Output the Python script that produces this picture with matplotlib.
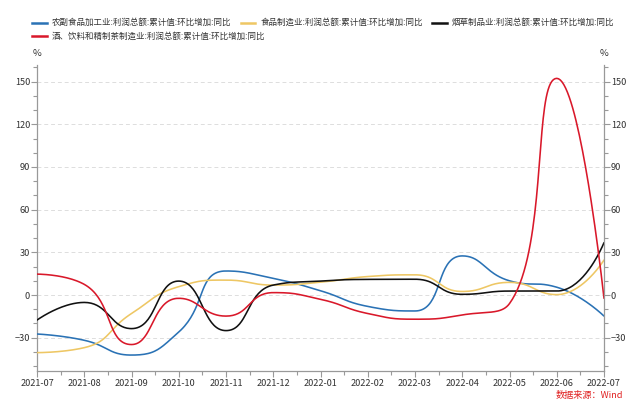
import numpy as np
import matplotlib
matplotlib.use("Agg")
import matplotlib.pyplot as plt
from matplotlib.lines import Line2D
from matplotlib.ticker import MultipleLocator, FixedLocator

plt.rcParams['font.family'] = ['Noto Sans CJK SC', 'DejaVu Sans']

months = ["2021-07", "2021-08", "2021-09", "2021-10", "2021-11", "2021-12",
          "2022-01", "2022-02", "2022-03", "2022-04", "2022-05", "2022-06", "2022-07"]

names = ["农副食品加工业:利润总额:累计值:环比增加:同比",
         "食品制造业:利润总额:累计值:环比增加:同比",
         "烟草制品业:利润总额:累计值:环比增加:同比",
         "酒、饮料和精制茶制造业:利润总额:累计值:环比增加:同比"]

agri = [-27.4, -31.8, -42.2, -26.0, 16.9, 11.7, 3.0, -8.0, -11.2, 27.5, 10.0, 5.5, -14.8]
food = [-40.5, -37.0, -13.0, 5.9, 10.5, 7.0, 9.0, 13.0, 14.2, 2.5, 8.9, 0.3, 24.6]
tobacco = [-17.6, -5.2, -23.6, 9.8, -25.0, 7.0, 9.8, 11.0, 11.1, 0.5, 2.8, 2.8, 36.8]
liquor = [14.7, 7.5, -34.8, -2.3, -14.8, 1.7, -3.0, -13.0, -17.0, -14.0, -6.0, 152.3, -2.3]

colors = ['#2a72b5', '#eec764', '#111111', '#d9182a']

PX_X, PX_Y = 47.25, 1.4222  # pixel scale used for echarts-like smoothing


def smooth_curve(xs, ys, smooth=0.5, n=40):
    P = np.column_stack([np.asarray(xs, float) * PX_X, np.asarray(ys, float) * PX_Y])
    N = len(P)
    out = [P[0]]
    cp0 = P[0].copy()
    for i in range(1, N):
        x, y = P[i]
        px, py = P[i - 1]
        if i == N - 1:
            ncp0 = P[i].copy()
            ncp1 = P[i].copy()
        else:
            nx, ny = P[i + 1]
            lp = np.hypot(x - px, y - py)
            ln = np.hypot(nx - x, ny - y)
            r = ln / (ln + lp)
            vx, vy = nx - px, ny - py
            c1x = x + vx * smooth * r
            c1y = y + vy * smooth * r
            c1x = min(c1x, max(nx, x)); c1y = min(c1y, max(ny, y))
            c1x = max(c1x, min(nx, x)); c1y = max(c1y, min(ny, y))
            vx, vy = c1x - x, c1y - y
            c0x = x - vx * lp / ln
            c0y = y - vy * lp / ln
            c0x = min(c0x, max(px, x)); c0y = min(c0y, max(py, y))
            c0x = max(c0x, min(px, x)); c0y = max(c0y, min(py, y))
            vx, vy = x - c0x, y - c0y
            c1x = x + vx * ln / lp
            c1y = y + vy * ln / lp
            ncp0 = np.array([c0x, c0y])
            ncp1 = np.array([c1x, c1y])
        t = np.linspace(0, 1, n)[1:, None]
        p0 = P[i - 1]
        seg = ((1 - t) ** 3) * p0 + 3 * ((1 - t) ** 2) * t * cp0 + 3 * (1 - t) * t ** 2 * ncp0 + t ** 3 * P[i]
        out.extend(seg)
        cp0 = ncp1
    out = np.array(out)
    return out[:, 0] / PX_X, out[:, 1] / PX_Y


W, H = 641, 408
fig = plt.figure(figsize=(W / 100, H / 100), dpi=100)
L, R, B, T = 37 / W, 604 / W, (H - 371) / H, (H - 65) / H
ax = fig.add_axes([L, B, R - L, T - B])
ymin, ymax = -53.4, 161.7
xidx = np.arange(len(months))

for data, c in zip([agri, food, tobacco, liquor], colors):
    sx, sy = smooth_curve(xidx, data)
    ax.plot(sx, sy, color=c, lw=1.15, solid_capstyle='round', zorder=3)

ax.set_xlim(0, len(months) - 1)
ax.set_ylim(ymin, ymax)
ax.set_xticks(xidx)
ax.set_xticklabels(months)
ax.xaxis.set_minor_locator(FixedLocator(xidx[:-1] + 0.5))
ax.yaxis.set_major_locator(FixedLocator([-30, 0, 30, 60, 90, 120, 150]))
ax.yaxis.set_minor_locator(MultipleLocator(10))
ax.grid(axis='y', which='major', color='#dddddd', linestyle=(0, (4, 3)), lw=0.7, zorder=0)

ax2 = ax.twinx()
ax2.set_ylim(ymin, ymax)
ax2.yaxis.set_major_locator(FixedLocator([-30, 0, 30, 60, 90, 120, 150]))
ax2.yaxis.set_minor_locator(MultipleLocator(10))

for a in (ax, ax2):
    a.spines['top'].set_visible(False)
    for s in ['left', 'right', 'bottom']:
        a.spines[s].set_color('#999999')
        a.spines[s].set_linewidth(0.9)
    a.tick_params(which='both', colors='#999999', labelcolor='#333333', labelsize=6.6, width=0.8)
    a.tick_params(which='major', length=4)
    a.tick_params(which='minor', length=3)
ax.tick_params(axis='x', pad=2)
ax.tick_params(axis='y', pad=1)
ax2.tick_params(axis='y', pad=1)
ax2.spines['bottom'].set_visible(False)
ax2.spines['left'].set_visible(False)
ax.spines['right'].set_visible(False)

fig.text(L, (H - 54) / H, '%', ha='center', va='center', fontsize=6.8, color='#333333')
fig.text(R, (H - 54) / H, '%', ha='center', va='center', fontsize=6.8, color='#333333')

# legend laid out in rows like the original (flowing left to right)
renderer = fig.canvas.get_renderer()
x = 32.0
rows_y = [22.7, 36.0]
row = 0
for i, (name, c) in enumerate(zip(names, colors)):
    if i == 3:
        row = 1
        x = 32.0
    yy = (H - rows_y[row]) / H
    fig.add_artist(Line2D([x / W, (x + 15) / W], [yy, yy], color=c, lw=1.8,
                          transform=fig.transFigure))
    t = fig.text((x + 20) / W, yy, name, ha='left', va='center', fontsize=6.1,
                 color='#333333')
    bb = t.get_window_extent(renderer)
    x = bb.x1 + 9

fig.text(623 / W, (H - 395.7) / H, '数据来源：Wind', ha='right', va='center',
         fontsize=6.6, color='#e02020')

fig.savefig('out.png', dpi=100)
